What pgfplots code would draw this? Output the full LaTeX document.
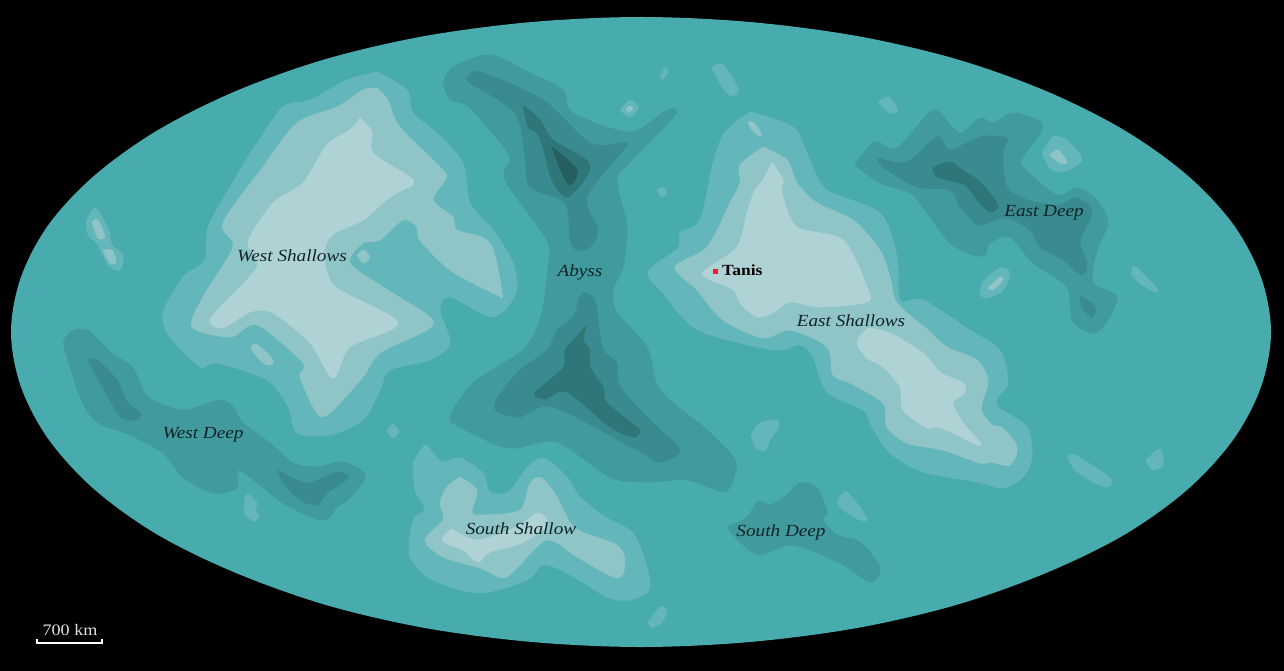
\documentclass[border=0pt]{standalone}
\usepackage{pgfplots}
\pgfplotsset{compat=1.18}
\usepackage{fontspec}
\setmainfont[FakeStretch=1.13]{Liberation Serif}

\definecolor{sea}{HTML}{48ABAD}
\definecolor{sa}{HTML}{63B6BA}
\definecolor{sb}{HTML}{90C5C8}
\definecolor{sc}{HTML}{AFD2D5}
\definecolor{da}{HTML}{419A9D}
\definecolor{db}{HTML}{3A8B90}
\definecolor{dc}{HTML}{2F7678}
\definecolor{dd}{HTML}{275E5F}
\definecolor{lbl}{HTML}{102426}
\definecolor{city}{HTML}{EE1C2E}

\pgfplotsset{
  zone/.style={fill=#1, draw=#1, line width=0.6pt, line join=round, mark=none, smooth, tension=0.5},
}
\tikzset{
  place/.style={font=\fontsize{17}{18}\selectfont\itshape, text=lbl, inner sep=0pt, anchor=base},
}

\begin{document}
\begin{tikzpicture}
\begin{axis}[
  width=1284pt, height=671pt, scale only axis,
  xmin=0, xmax=1284, ymin=0, ymax=671,
  y dir=reverse,
  hide axis,
]

% background and ocean
\addplot[fill=black, draw=none, mark=none] coordinates {(0,0)(1284,0)(1284,671)(0,671)(0,0)};
\addplot[fill=sea, draw=none, mark=none, smooth, tension=0.55] coordinates {
  (1261,277)(1271,332)(1261,387)(1233,440)(1187,490)(1124,535)(1046,573)(956,605)(857,628)(750,642)(641,647)
  (532,642)(425,628)(326,605)(236,573)(158,535)(95,490)(49,440)(21,387)(11,332)
  (21,277)(49,224)(95,175)(158,130)(236,91)(326,59)(425,36)(532,22)(641,17)
  (750,22)(857,36)(956,59)(1046,91)(1124,130)(1187,175)(1233,224)(1261,277)(1271,332)(1261,387)};

% West Shallows
\addplot[zone=sa] coordinates {(377,72)(407,90)(413,113)(437,133)(463,163)(470,203)(493,230)(513,263)(516,293)(493,317)(450,297)(440,310)(450,343)(430,360)(390,370)(380,390)(363,420)(330,435)(297,433)(288,407)(267,380)(217,363)(200,367)(170,337)(163,313)(183,277)(205,260)(208,227)(230,187)(257,143)(283,107)(310,100)(347,80)(377,72)};
\addplot[zone=sb] coordinates {(377,88)(388,100)(400,127)(443,170)(445,180)(433,200)(453,217)(457,230)(490,243)(502,293)(497,295)(450,270)(420,240)(417,227)(403,220)(380,240)(363,243)(350,263)(383,287)(430,317)(427,330)(380,353)(363,377)(330,413)(317,413)(300,377)(303,363)(257,325)(230,337)(192,327)(203,297)(233,247)(223,223)(263,167)(297,123)(337,107)(363,90)(377,88)};
\addplot[zone=sc] coordinates {(360,118)(372,132)(373,153)(410,177)(412,185)(390,197)(363,220)(335,233)(325,247)(327,273)(340,290)(398,323)(350,347)(333,378)(310,343)(273,313)(250,312)(223,328)(210,322)(217,310)(257,267)(248,242)(273,203)(303,183)(327,145)(350,130)(360,118)};
\addplot[zone=sb] coordinates {(357,255)(363,250)(370,257)(363,263)(357,255)};
\addplot[zone=sb] coordinates {(252,345)(258,345)(273,360)(270,365)(262,362)(252,350)(252,345)};
\addplot[zone=sa] coordinates {(393,424)(399,431)(393,438)(387,431)(393,424)};

% East Shallows
\addplot[zone=sa] coordinates {(750,112)(793,127)(810,160)(827,190)(880,213)(897,257)(900,300)(923,300)(970,330)(1000,350)(1008,383)(998,397)(998,407)(1027,427)(1032,457)(1023,477)(1003,488)(977,482)(923,472)(890,453)(872,427)(863,410)(827,392)(813,357)(800,345)(773,350)(698,330)(663,293)(648,272)(678,248)(680,233)(700,220)(713,163)(725,132)(750,112)};
\addplot[zone=sb] coordinates {(763,147)(787,160)(797,183)(817,203)(853,220)(880,250)(890,277)(897,303)(928,330)(947,347)(977,360)(988,380)(983,400)(982,412)(992,425)(1003,428)(1017,447)(1010,465)(990,462)(980,463)(942,450)(907,443)(887,427)(883,403)(850,383)(833,375)(827,347)(790,330)(763,338)(723,320)(697,290)(675,267)(707,247)(730,203)(740,183)(740,165)(763,147)};
\addplot[zone=sc] coordinates {(772,163)(783,180)(782,193)(797,227)(843,240)(867,287)(867,302)(820,307)(790,302)(773,313)(757,317)(740,303)(733,290)(705,277)(705,270)(737,247)(747,213)(755,190)(763,180)(772,163)};
\addplot[zone=sc] coordinates {(868,328)(890,333)(923,353)(940,372)(963,383)(965,393)(953,403)(963,423)(980,442)(978,445)(957,435)(937,427)(927,428)(903,410)(900,387)(883,367)(867,358)(857,342)(868,328)};
\addplot[zone=sb] coordinates {(748,122)(753,122)(761,133)(760,136)(752,130)(748,122)};
\addplot[zone=sb] coordinates {(686,263)(693,262)(694,268)(689,268)(686,263)};

% South Shallow
\addplot[zone=sa] coordinates {(413,462)(425,445)(433,453)(443,462)(460,458)(483,473)(490,492)(508,492)(527,468)(543,458)(567,477)(580,497)(607,518)(633,533)(647,567)(649,590)(630,600)(607,597)(567,573)(543,565)(527,580)(480,593)(433,580)(410,557)(413,520)(425,510)(415,490)(413,462)};
\addplot[zone=sb] coordinates {(460,477)(477,490)(472,512)(483,515)(520,510)(530,483)(542,478)(557,497)(575,528)(617,545)(625,563)(617,578)(577,557)(547,540)(517,568)(503,578)(480,568)(443,557)(425,540)(443,520)(440,503)(447,487)(460,477)};
\addplot[zone=sc] coordinates {(452,529)(477,540)(517,527)(537,513)(547,520)(543,530)(517,545)(490,552)(478,562)(463,550)(445,543)(443,537)(452,529)};

% Abyss
\addplot[zone=da] coordinates {(443,83)(453,67)(490,55)(530,73)(563,90)(573,113)(630,132)(667,110)(675,115)(630,162)(617,180)(627,227)(623,267)(613,290)(617,313)(647,347)(660,390)(707,430)(735,460)(733,480)(723,492)(687,480)(647,482)(610,477)(557,442)(517,448)(497,445)(460,427)(450,417)(473,383)(523,350)(540,320)(547,280)(548,267)(547,240)(505,180)(510,157)(487,127)(467,105)(450,100)(443,83)};
\addplot[zone=db] coordinates {(467,78)(480,72)(543,100)(590,143)(625,143)(623,150)(587,197)(598,230)(590,247)(577,250)(570,240)(565,203)(530,187)(525,157)(515,113)(470,83)(467,78)};
\addplot[zone=dc] coordinates {(523,105)(540,120)(553,140)(590,165)(568,197)(552,180)(543,147)(537,133)(528,127)(523,105)};
\addplot[zone=dd] coordinates {(552,147)(577,170)(570,185)(562,173)(552,147)};
\addplot[zone=db] coordinates {(585,292)(595,300)(598,320)(603,350)(617,363)(620,387)(653,423)(680,450)(660,462)(637,450)(553,407)(520,417)(500,413)(495,403)(517,373)(547,350)(557,330)(573,317)(580,297)(585,292)};
\addplot[zone=dc] coordinates {(587,325)(583,340)(590,350)(590,367)(603,387)(607,403)(637,427)(640,432)(633,437)(610,427)(567,392)(545,399)(535,393)(563,368)(565,350)(580,333)(587,325)};

% East Deep
\addplot[zone=da] coordinates {(855,165)(870,145)(878,142)(897,148)(930,112)(940,113)(960,133)(980,118)(993,123)(1013,113)(1037,120)(1042,130)(1023,157)(1023,167)(1057,195)(1077,188)(1097,200)(1108,223)(1097,250)(1093,283)(1117,297)(1103,327)(1090,333)(1072,320)(1067,287)(1033,263)(1010,237)(990,243)(985,255)(973,255)(950,243)(927,213)(910,193)(880,183)(855,165)};
\addplot[zone=db] coordinates {(878,158)(907,162)(937,137)(950,150)(980,137)(1007,138)(1003,153)(1007,187)(1027,200)(1057,205)(1077,198)(1092,212)(1080,242)(1087,263)(1082,275)(1063,260)(1040,247)(1030,230)(1007,218)(990,222)(978,225)(960,207)(950,190)(917,187)(883,167)(878,158)};
\addplot[zone=dc] coordinates {(933,168)(950,162)(965,172)(978,180)(993,197)(998,207)(990,212)(977,200)(965,185)(937,177)(933,168)};
\addplot[zone=db] coordinates {(1080,295)(1095,307)(1092,317)(1082,307)(1080,295)};

% West Deep
\addplot[zone=da] coordinates {(63,343)(70,332)(87,330)(110,352)(133,368)(148,397)(183,410)(220,400)(233,407)(243,423)(270,443)(293,463)(317,467)(343,462)(365,475)(350,498)(337,507)(327,519)(313,518)(283,503)(260,485)(238,470)(237,488)(213,493)(183,477)(163,453)(130,435)(97,422)(80,397)(63,343)};
\addplot[zone=db] coordinates {(88,360)(97,360)(117,380)(127,402)(140,413)(137,420)(122,418)(110,400)(97,377)(88,360)};
\addplot[zone=db] coordinates {(278,470)(307,483)(337,472)(348,478)(327,493)(317,505)(300,500)(283,483)(278,470)};

% South Deep
\addplot[zone=da] coordinates {(727,527)(747,517)(758,501)(770,505)(787,495)(800,483)(817,488)(827,512)(823,520)(837,535)(860,542)(880,568)(870,582)(840,563)(792,545)(760,555)(740,542)(727,527)};

% small islands
\addplot[zone=sa] coordinates {(712,68)(722,64)(738,88)(733,96)(724,90)(712,68)};
\addplot[zone=sa] coordinates {(657,190)(663,187)(667,193)(661,197)(657,190)};
\addplot[zone=sa] coordinates {(620,110)(630,100)(638,107)(630,117)(620,110)};
\addplot[zone=sb] coordinates {(626,109)(630,106)(633,109)(629,112)(626,109)};
\addplot[zone=sa] coordinates {(660,77)(665,68)(668,72)(663,79)(660,77)};
\addplot[zone=sa] coordinates {(1042,153)(1053,137)(1067,140)(1082,160)(1063,172)(1050,168)(1042,153)};
\addplot[zone=sb] coordinates {(1050,155)(1058,150)(1067,162)(1060,163)(1050,155)};
\addplot[zone=sa] coordinates {(980,295)(983,282)(1000,268)(1010,273)(1003,290)(987,298)(980,295)};
\addplot[zone=sb] coordinates {(988,288)(1000,277)(1003,280)(993,290)(988,288)};
\addplot[zone=sa] coordinates {(1132,268)(1137,268)(1158,290)(1150,290)(1133,277)(1132,268)};
\addplot[zone=sa] coordinates {(878,102)(888,97)(898,110)(890,113)(878,102)};
\addplot[zone=sa] coordinates {(1068,458)(1075,455)(1110,478)(1108,487)(1095,483)(1075,470)(1068,458)};
\addplot[zone=sa] coordinates {(1146,460)(1160,449)(1163,465)(1152,470)(1146,460)};
\addplot[zone=sa] coordinates {(751,435)(760,423)(777,420)(778,428)(770,440)(765,451)(755,447)(751,435)};
\addplot[zone=sa] coordinates {(648,622)(660,607)(667,610)(662,622)(652,628)(648,622)};
\addplot[zone=sa] coordinates {(837,502)(847,492)(867,518)(860,520)(843,510)(837,502)};
\addplot[zone=sa] coordinates {(86,222)(95,208)(108,228)(112,245)(123,255)(120,270)(108,265)(98,245)(88,235)(86,222)};
\addplot[zone=sb] coordinates {(92,222)(98,220)(105,237)(98,238)(92,222)};
\addplot[zone=sb] coordinates {(103,250)(112,250)(116,262)(110,263)(103,250)};
\addplot[zone=sa] coordinates {(245,498)(248,494)(257,503)(255,510)(259,517)(253,521)(245,513)(245,498)};

% city and scale bar
\addplot[only marks, mark=square*, mark size=2.2pt, color=city] coordinates {(715,271)};
\addplot[color=white, line width=2pt, mark=none] coordinates {(37,639)(37,643)(102,643)(102,639)};

\node[place] at (292,261) {West Shallows};
\node[place] at (203,438) {West Deep};
\node[place] at (580,276) {Abyss};
\node[place] at (851,326) {East Shallows};
\node[place] at (1044,216) {East Deep};
\node[place] at (521,534) {South Shallow};
\node[place] at (781,536) {South Deep};
\node[anchor=base west, inner sep=0pt, font=\fontsize{15.5}{17}\selectfont\bfseries, text=black] at (722,275) {Tanis};
\node[anchor=base, inner sep=0pt, font=\fontsize{16}{17}\selectfont, text=white!88!black] at (70,635) {700 km};

\end{axis}
\end{tikzpicture}
\end{document}
